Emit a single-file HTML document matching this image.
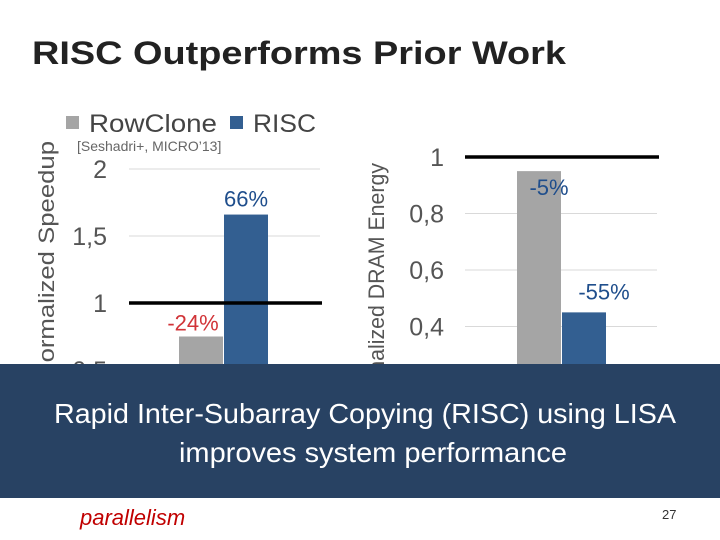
<!DOCTYPE html>
<html><head><meta charset="utf-8"><style>
html,body{margin:0;padding:0;background:#fff;}
svg{display:block;font-family:"Liberation Sans",sans-serif;}
</style></head><body>
<svg width="720" height="540" viewBox="0 0 720 540" xmlns="http://www.w3.org/2000/svg">
<text x="32" y="64" font-size="32" font-weight="bold" fill="#222" textLength="534" lengthAdjust="spacingAndGlyphs">RISC Outperforms Prior Work</text>
<g>
  <rect x="66" y="116" width="13" height="13" fill="#a5a5a5"/>
  <text x="89" y="132" font-size="25" fill="#444" textLength="128" lengthAdjust="spacingAndGlyphs">RowClone</text>
  <rect x="230" y="116" width="13" height="13" fill="#335f91"/>
  <text x="253" y="132" font-size="25" fill="#444" textLength="63" lengthAdjust="spacingAndGlyphs">RISC</text>
</g>
<text x="77" y="151" font-size="14" fill="#666">[Seshadri+, MICRO’13]</text>
<text transform="translate(54,141) rotate(-90)" font-size="22" fill="#555" text-anchor="end" textLength="240" lengthAdjust="spacingAndGlyphs">Normalized Speedup</text>
<text transform="translate(384,163) rotate(-90)" font-size="22" fill="#555" text-anchor="end" textLength="250" lengthAdjust="spacingAndGlyphs">Normalized DRAM Energy</text>
<g id="c1"></g><g id="c2"></g>
<rect x="0" y="364" width="720" height="134" fill="#284263"/>
<text x="365" y="423" font-size="28" fill="#fff" text-anchor="middle" textLength="622" lengthAdjust="spacingAndGlyphs">Rapid Inter-Subarray Copying (RISC) using LISA</text>
<text x="373" y="462" font-size="28" fill="#fff" text-anchor="middle" textLength="388" lengthAdjust="spacingAndGlyphs">improves system performance</text>
<text x="80" y="525" font-size="22" font-style="italic" fill="#c00000">parallelism</text>
<text x="662" y="519" font-size="13" fill="#333">27</text>
</svg>
<script>
const NS="http://www.w3.org/2000/svg";
const speedTicks=[0.5,1,1.5,2];
const speedTickLabels=["0,5","1","1,5","2"];
const speedValues=[0.75,1.66];
const speedLabels=["-24%","66%"];
const energyTicks=[0.2,0.4,0.6,0.8,1];
const energyTickLabels=["0,2","0,4","0,6","0,8","1"];
const energyValues=[0.95,0.45];
const energyLabels=["-5%","-55%"];
const colors=["#a5a5a5","#335f91"];
function mk(p,t,a){const e=document.createElementNS(NS,t);for(const k in a)e.setAttribute(k,a[k]);p.appendChild(e);return e;}
function draw(g,cfg){
  const y=v=>cfg.y1-(v-1)*cfg.ppu;
  cfg.ticks.forEach((t,i)=>{
    if(t!==1){const l=mk(g,"line",{x1:cfg.gx0,x2:cfg.gx1,y1:y(t),y2:y(t),stroke:"#d9d9d9","stroke-width":1});
    
    }
    const tx=mk(g,"text",{x:cfg.lx,y:y(t)+9,"font-size":25,fill:"#555","text-anchor":"end"});
    tx.textContent=cfg.tickLabels[i];
    
    
  });
  cfg.values.forEach((v,i)=>{
    const x=cfg.bx+i*45;
    const r=mk(g,"rect",{x:x,y:y(v),width:44,height:Math.max(0,cfg.base-y(v)),fill:colors[i]});
    
    
    const t=mk(g,"text",{x:x+22+cfg.lo[i][0],y:y(v)+cfg.lo[i][1],"font-size":22,fill:cfg.lc[i],"text-anchor":"middle"});
    t.textContent=cfg.labels[i];
    
    
  });
  const b=mk(g,"line",{x1:cfg.gx0,x2:cfg.gx1+2,y1:y(1),y2:y(1),stroke:"#000","stroke-width":3.5});
  
  
}
draw(document.getElementById("c1"),{y1:303,ppu:134,gx0:129,gx1:320,lx:107,bx:179,base:400,values:speedValues,labels:speedLabels,ticks:speedTicks,tickLabels:speedTickLabels,lc:["#d13438","#1f4e8c"],lo:[[-8,-6],[0,-8]]});
draw(document.getElementById("c2"),{y1:157,ppu:282.5,gx0:465,gx1:657,lx:444,bx:517,base:400,values:energyValues,labels:energyLabels,ticks:energyTicks,tickLabels:energyTickLabels,lc:["#1f4e8c","#1f4e8c"],lo:[[10,24],[20,-13]]});
</script>
</body></html>
